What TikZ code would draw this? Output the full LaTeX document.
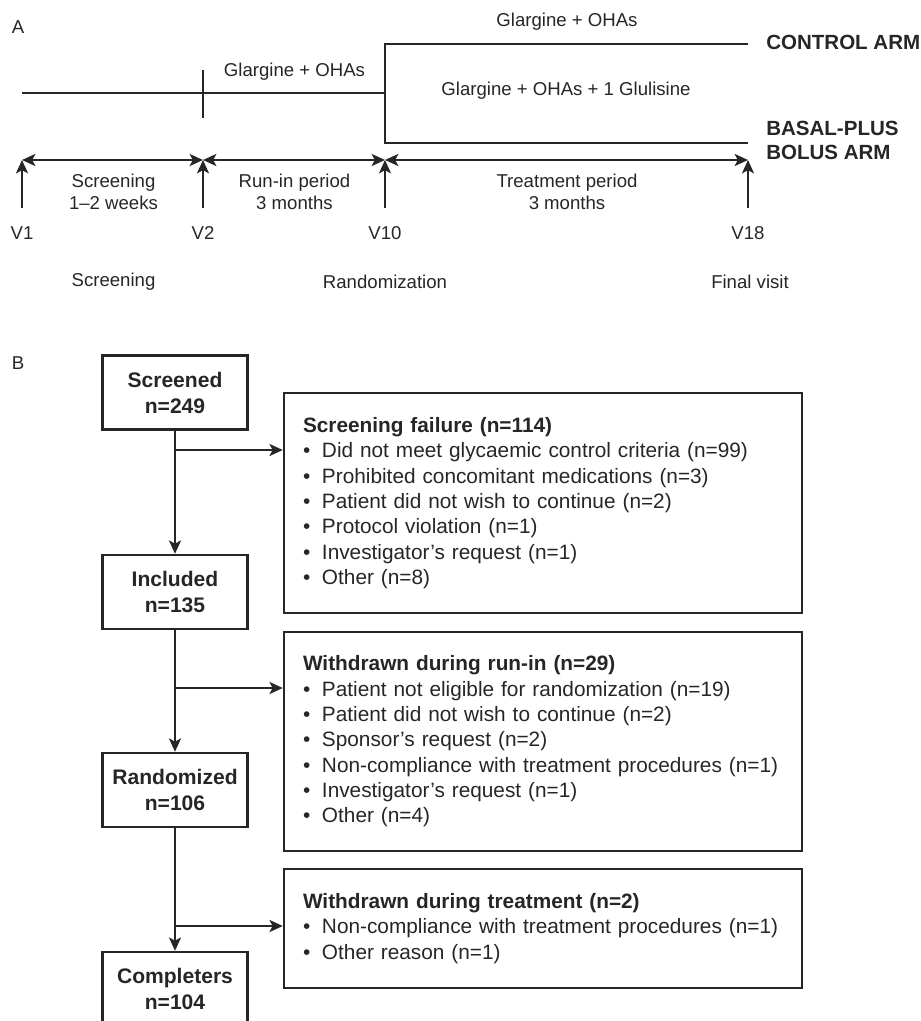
\documentclass[tikz,border=0pt]{standalone}
\usepackage{fontspec}
\setmainfont{Liberation Sans}
\usetikzlibrary{arrows.meta}
\definecolor{ink}{HTML}{262626}
\begin{document}
\begin{tikzpicture}[x=0.75pt,y=-0.75pt,
  line/.style={draw=ink,line width=1.7pt},
  arr/.style={line,-{Stealth[length=10pt,width=9pt,inset=2.4pt]}},
  darr/.style={line,{Stealth[length=10pt,width=9pt,inset=2.4pt]}-{Stealth[length=10pt,width=9pt,inset=2.4pt]}},
  fa/.style={font=\fontsize{13.95}{16.5}\selectfont,text=ink,inner sep=0pt,align=center},
  arm/.style={font=\bfseries\fontsize{15.4}{18}\selectfont,text=ink,inner sep=0pt,align=left,anchor=west},
  panel/.style={font=\fontsize{13.95}{16.5}\selectfont,text=ink,inner sep=0pt},
  mainbox/.style={draw=ink,line width=1.8pt,minimum width=108.75pt,minimum height=55.5pt,inner sep=0pt,align=center,font=\bfseries\fontsize{15.8}{19.5}\selectfont,text=ink},
  reasonbox/.style={draw=ink,line width=1.8pt,inner xsep=14.25pt,inner ysep=0pt,text width=360pt,align=left,font=\fontsize{15.6}{19}\selectfont,text=ink},
]
\useasboundingbox (0,0) rectangle (921,1021);
\clip (0,0) rectangle (921,1021);

% ---------- Panel A ----------
\node[panel] (lA) at (18,27) {A};

\coordinate (t0) at (22,93);
\coordinate (t1) at (385,93);
\draw[line] (t0) -- (t1);
\coordinate (tk1) at (203,70);
\coordinate (tk2) at (203,118);
\draw[line] (tk1) -- (tk2);
\node[fa] (g1) at (294.5,72) {Glargine + OHAs};

\coordinate (bt) at (385,44);
\coordinate (bb) at (385,143);
\coordinate (et) at (748,44);
\coordinate (eb) at (748,143);
\draw[line] (et) -- (bt) -- (bb) -- (eb);
\node[fa] (g2) at (567,22) {Glargine + OHAs};
\node[fa] (g3) at (566,91) {Glargine + OHAs + 1 Glulisine};
\node[arm] (ctrl) at (766,42) {CONTROL ARM};
\node[arm] (bpb) at (766,140) {BASAL-PLUS\\BOLUS ARM};

\coordinate (a1) at (22,160);
\coordinate (a2) at (203,160);
\coordinate (a3) at (385,160);
\coordinate (a4) at (748,160);
\coordinate (f1) at (22,208);
\coordinate (f2) at (203,208);
\coordinate (f3) at (385,208);
\coordinate (f4) at (748,208);
\draw[darr] (a1) -- (a2);
\draw[darr] (a2) -- (a3);
\draw[darr] (a3) -- (a4);
\draw[arr] (f1) -- (a1);
\draw[arr] (f2) -- (a2);
\draw[arr] (f3) -- (a3);
\draw[arr] (f4) -- (a4);

\node[fa] (p1) at (113.5,192) {Screening\\1–2 weeks};
\node[fa] (p2) at (294.5,192) {Run-in period\\3 months};
\node[fa] (p3) at (567,192) {Treatment period\\3 months};

\node[fa] (v1) at (22,233) {V1};
\node[fa] (v2) at (203,233) {V2};
\node[fa] (v10) at (385,233) {V10};
\node[fa] (v18) at (748,233) {V18};

\node[fa] (s1) at (113.5,282) {Screening};
\node[fa] (s2) at (385,282) {Randomization};
\node[fa] (s3) at (750,282) {Final visit};

% ---------- Panel B ----------
\node[panel] (lB) at (18,363) {B};

\node[mainbox] (scr) at (175,392.5) {Screened\\n=249};
\node[mainbox] (inc) at (175,592) {Included\\n=135};
\node[mainbox] (ran) at (175,790) {Randomized\\n=106};
\node[mainbox,minimum height=60pt] (com) at (175,992) {};
\node[font=\bfseries\fontsize{15.8}{19.5}\selectfont,text=ink,inner sep=0pt,align=center] (comt) at (175,989) {Completers\\n=104};

\node[reasonbox,minimum height=165pt] (sf) at (543,503) {%
\textbf{Screening failure (n=114)}\\
\mbox{\makebox[14.25pt][l]{\textbullet}Did not meet glycaemic control criteria (n=99)}\\
\mbox{\makebox[14.25pt][l]{\textbullet}Prohibited concomitant medications (n=3)}\\
\mbox{\makebox[14.25pt][l]{\textbullet}Patient did not wish to continue (n=2)}\\
\mbox{\makebox[14.25pt][l]{\textbullet}Protocol violation (n=1)}\\
\mbox{\makebox[14.25pt][l]{\textbullet}Investigator’s request (n=1)}\\
\mbox{\makebox[14.25pt][l]{\textbullet}Other (n=8)}};

\node[reasonbox,minimum height=164.25pt] (wr) at (543,741.5) {%
\textbf{Withdrawn during run-in (n=29)}\\
\mbox{\makebox[14.25pt][l]{\textbullet}Patient not eligible for randomization (n=19)}\\
\mbox{\makebox[14.25pt][l]{\textbullet}Patient did not wish to continue (n=2)}\\
\mbox{\makebox[14.25pt][l]{\textbullet}Sponsor’s request (n=2)}\\
\mbox{\makebox[14.25pt][l]{\textbullet}Non-compliance with treatment procedures (n=1)}\\
\mbox{\makebox[14.25pt][l]{\textbullet}Investigator’s request (n=1)}\\
\mbox{\makebox[14.25pt][l]{\textbullet}Other (n=4)}};

\node[reasonbox,minimum height=89.25pt] (wt) at (543,928.5) {%
\textbf{Withdrawn during treatment (n=2)}\\
\mbox{\makebox[14.25pt][l]{\textbullet}Non-compliance with treatment procedures (n=1)}\\
\mbox{\makebox[14.25pt][l]{\textbullet}Other reason (n=1)}};

\draw[arr] (scr) -- (inc);
\draw[arr] (inc) -- (ran);
\draw[arr] (ran) -- (com);

\coordinate (j1) at (175,450);
\coordinate (j2) at (175,688);
\coordinate (j3) at (175,926);
\draw[arr] (j1) -- (j1 -| sf.west);
\draw[arr] (j2) -- (j2 -| wr.west);
\draw[arr] (j3) -- (j3 -| wt.west);
\end{tikzpicture}
\end{document}
